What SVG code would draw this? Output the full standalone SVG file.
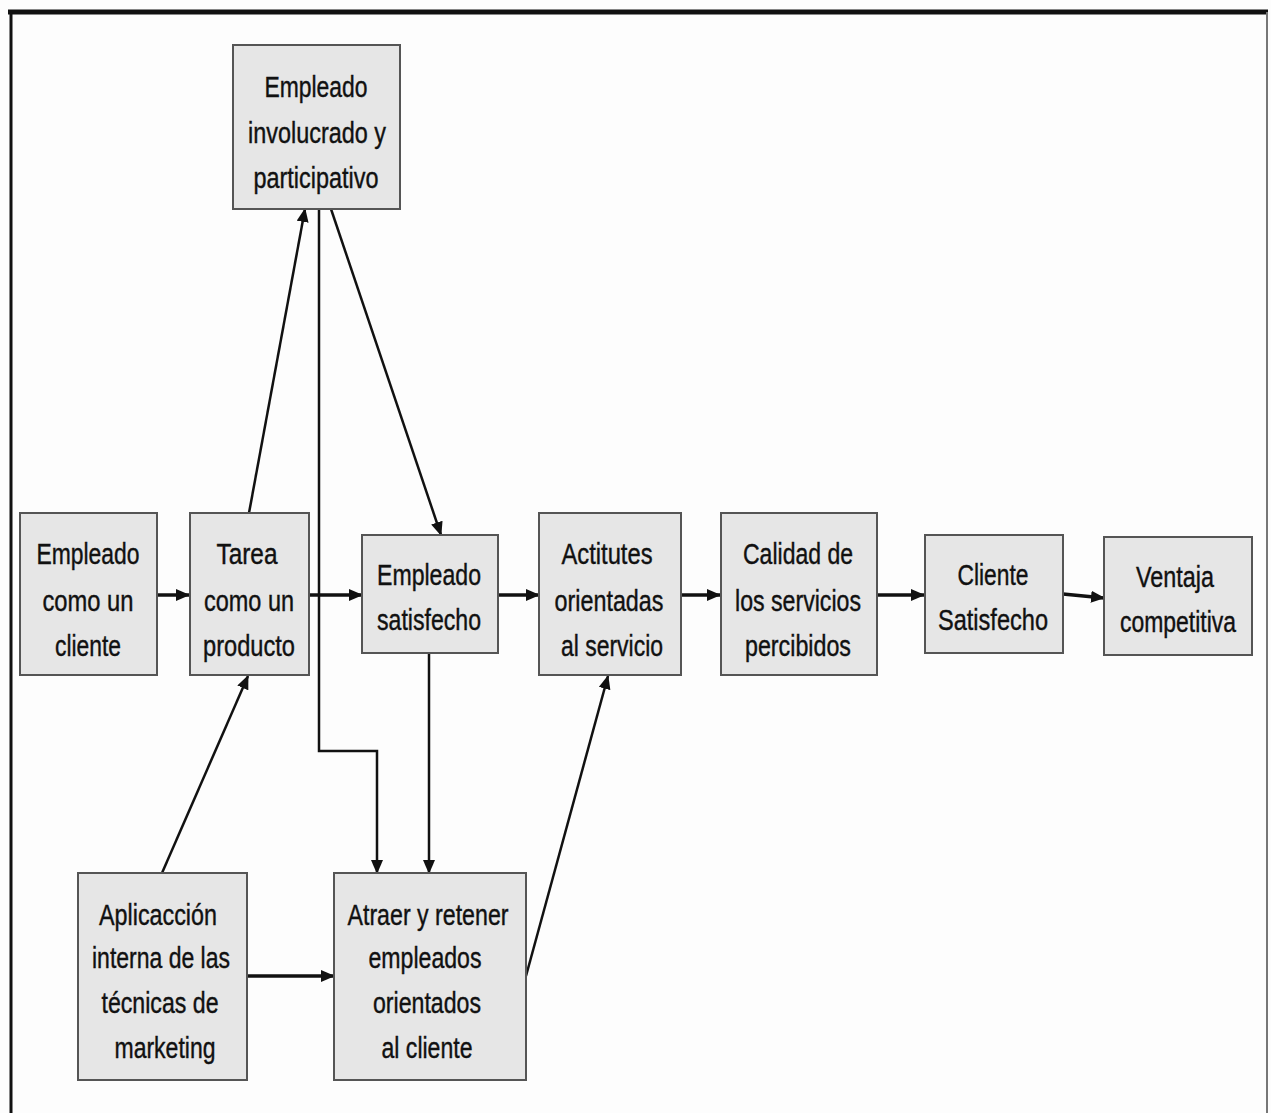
<svg xmlns="http://www.w3.org/2000/svg" width="1271" height="1113" viewBox="0 0 1271 1113">
<defs>
<marker id="ah" viewBox="0 0 14 12" refX="13" refY="6" markerWidth="14" markerHeight="12" markerUnits="userSpaceOnUse" orient="auto">
<path d="M0,0 L14,6 L0,12 z" fill="#111"/>
</marker>
</defs>
<style>
.box{fill:#e6e6e6;stroke:#555;stroke-width:2}
.t{font-family:"Liberation Sans",Arial,sans-serif;font-size:29px;fill:#111;stroke:#111;stroke-width:0.4;text-anchor:middle}
.c{fill:none;stroke:#111;stroke-width:2.5;marker-end:url(#ah)}
.h{stroke-width:3.5}
</style>
<rect width="1271" height="1113" fill="#fdfdfd"/>
<g id="frame">
<line x1="8" y1="12" x2="1268" y2="12" stroke="#111" stroke-width="5"/>
<line x1="11" y1="12" x2="11" y2="1113" stroke="#111" stroke-width="3"/>
<line x1="1267" y1="12" x2="1267" y2="1113" stroke="#777" stroke-width="2"/>
</g>
<g id="connectors">
<line class="c h" x1="157" y1="595" x2="189" y2="595"/>
<line class="c h" x1="309" y1="595" x2="362" y2="595"/>
<line class="c h" x1="498" y1="595" x2="539" y2="595"/>
<line class="c h" x1="681" y1="595" x2="720" y2="595"/>
<line class="c h" x1="877" y1="595" x2="924" y2="595"/>
<line class="c h" x1="1063" y1="594" x2="1104" y2="598"/>
<line class="c" x1="249" y1="513" x2="305" y2="209"/>
<line class="c" x1="331" y1="209" x2="441" y2="535"/>
<polyline class="c" points="319,209 319,751 377,751 377,873"/>
<line class="c" x1="429" y1="653" x2="429" y2="873"/>
<line class="c" x1="162" y1="873" x2="248" y2="676"/>
<line class="c h" x1="247" y1="976" x2="334" y2="976"/>
<line class="c" x1="526" y1="976" x2="608" y2="676"/>
</g>
<g id="n_top"><rect class="box" x="233" y="45" width="167" height="164"/>
<text class="t" x="316" y="97" textLength="103" lengthAdjust="spacingAndGlyphs">Empleado</text>
<text class="t" x="317" y="143" textLength="138" lengthAdjust="spacingAndGlyphs">involucrado y</text>
<text class="t" x="316" y="188" textLength="125" lengthAdjust="spacingAndGlyphs">participativo</text></g>
<g id="n_a"><rect class="box" x="20" y="513" width="137" height="162"/>
<text class="t" x="88" y="564" textLength="103" lengthAdjust="spacingAndGlyphs">Empleado</text>
<text class="t" x="88" y="611" textLength="91" lengthAdjust="spacingAndGlyphs">como un</text>
<text class="t" x="88" y="656" textLength="66" lengthAdjust="spacingAndGlyphs">cliente</text></g>
<g id="n_b"><rect class="box" x="190" y="513" width="119" height="162"/>
<text class="t" x="247" y="564" textLength="61" lengthAdjust="spacingAndGlyphs">Tarea</text>
<text class="t" x="249" y="611" textLength="90" lengthAdjust="spacingAndGlyphs">como un</text>
<text class="t" x="249" y="656" textLength="92" lengthAdjust="spacingAndGlyphs">producto</text></g>
<g id="n_c"><rect class="box" x="362" y="535" width="136" height="118"/>
<text class="t" x="429" y="585" textLength="104" lengthAdjust="spacingAndGlyphs">Empleado</text>
<text class="t" x="429" y="630" textLength="104" lengthAdjust="spacingAndGlyphs">satisfecho</text></g>
<g id="n_d"><rect class="box" x="539" y="513" width="142" height="162"/>
<text class="t" x="607" y="564" textLength="91" lengthAdjust="spacingAndGlyphs">Actitutes</text>
<text class="t" x="609" y="611" textLength="109" lengthAdjust="spacingAndGlyphs">orientadas</text>
<text class="t" x="612" y="656" textLength="102" lengthAdjust="spacingAndGlyphs">al servicio</text></g>
<g id="n_e"><rect class="box" x="721" y="513" width="156" height="162"/>
<text class="t" x="798" y="564" textLength="110" lengthAdjust="spacingAndGlyphs">Calidad de</text>
<text class="t" x="798" y="611" textLength="126" lengthAdjust="spacingAndGlyphs">los servicios</text>
<text class="t" x="798" y="656" textLength="106" lengthAdjust="spacingAndGlyphs">percibidos</text></g>
<g id="n_f"><rect class="box" x="925" y="535" width="138" height="118"/>
<text class="t" x="993" y="585" textLength="71" lengthAdjust="spacingAndGlyphs">Cliente</text>
<text class="t" x="993" y="630" textLength="110" lengthAdjust="spacingAndGlyphs">Satisfecho</text></g>
<g id="n_g"><rect class="box" x="1104" y="537" width="148" height="118"/>
<text class="t" x="1175" y="587" textLength="78" lengthAdjust="spacingAndGlyphs">Ventaja</text>
<text class="t" x="1178" y="632" textLength="116" lengthAdjust="spacingAndGlyphs">competitiva</text></g>
<g id="n_h"><rect class="box" x="78" y="873" width="169" height="207"/>
<text class="t" x="158" y="925" textLength="118" lengthAdjust="spacingAndGlyphs">Aplicacción</text>
<text class="t" x="161" y="968" textLength="138" lengthAdjust="spacingAndGlyphs">interna de las</text>
<text class="t" x="160" y="1013" textLength="117" lengthAdjust="spacingAndGlyphs">técnicas de</text>
<text class="t" x="165" y="1058" textLength="101" lengthAdjust="spacingAndGlyphs">marketing</text></g>
<g id="n_i"><rect class="box" x="334" y="873" width="192" height="207"/>
<text class="t" x="428" y="925" textLength="161" lengthAdjust="spacingAndGlyphs">Atraer y retener</text>
<text class="t" x="425" y="968" textLength="113" lengthAdjust="spacingAndGlyphs">empleados</text>
<text class="t" x="427" y="1013" textLength="108" lengthAdjust="spacingAndGlyphs">orientados</text>
<text class="t" x="427" y="1058" textLength="91" lengthAdjust="spacingAndGlyphs">al cliente</text></g>
</svg>
